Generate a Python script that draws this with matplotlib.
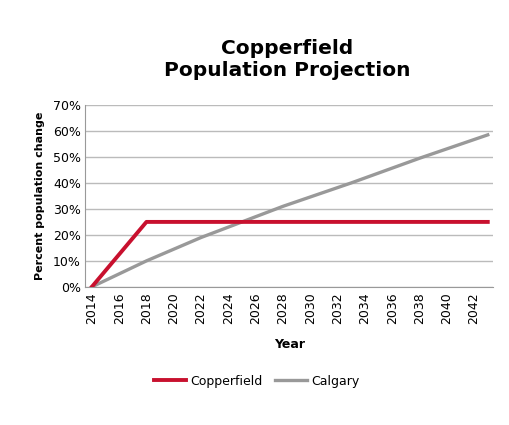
import matplotlib.pyplot as plt
from matplotlib.ticker import PercentFormatter

years_cop = [2014, 2018, 2043]
copperfield = [0, 25, 25]
years_cal = [2014, 2018, 2022, 2025, 2028, 2033, 2038, 2043]
calgary = [0, 10, 19, 25, 31, 40, 49.5, 58.5]
xticks = list(range(2014, 2043, 2))

fig = plt.figure(figsize=(5.09, 4.25), dpi=100)
ax = fig.add_axes([0.167, 0.325, 0.802, 0.428])
ax.plot(years_cop, copperfield, color="#c8102e", lw=2.8, label="Copperfield", zorder=3)
ax.plot(years_cal, calgary, color="#999999", lw=2.4, label="Calgary", zorder=2)

ax.set_xlim(2013.5, 2043.4)
ax.set_ylim(0, 70)
ax.set_yticks(range(0, 71, 10))
ax.yaxis.set_major_formatter(PercentFormatter(decimals=0))
ax.set_xticks(xticks)
ax.tick_params(axis="x", rotation=90, labelsize=9, length=0, pad=4)
ax.tick_params(axis="y", labelsize=9, length=0, pad=3)
ax.grid(axis="y", color="#bbbbbb", lw=1)
ax.set_axisbelow(True)
for s in ["top", "right"]:
    ax.spines[s].set_visible(False)
for s in ["left", "bottom"]:
    ax.spines[s].set_color("#999999")

ax.set_xlabel("Year", fontsize=9, fontweight="bold", labelpad=10)
ax.set_ylabel("Percent population change", fontsize=8, fontweight="bold", labelpad=6)
fig.text(0.565, 0.86, "Copperfield\nPopulation Projection", ha="center", va="center",
         fontsize=14.5, fontweight="bold", linespacing=1.15)
fig.legend(loc="center", bbox_to_anchor=(0.505, 0.103), ncol=2, frameon=False,
           fontsize=9, handlelength=2.5, columnspacing=1.0, handletextpad=0.4)

fig.savefig("out.png", dpi=100)
